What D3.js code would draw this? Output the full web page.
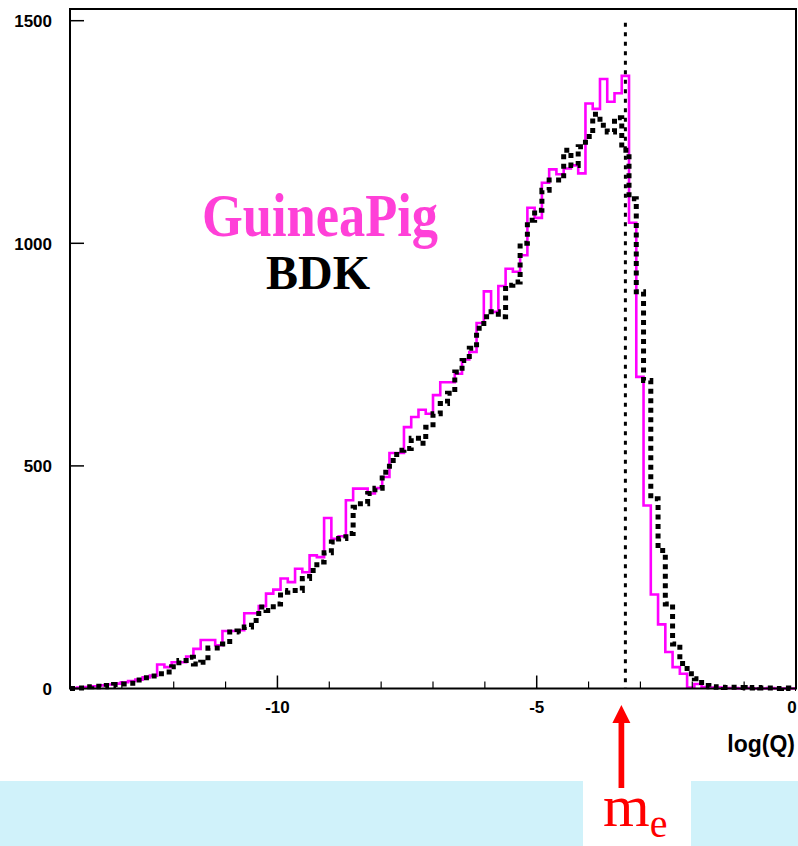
<!DOCTYPE html>
<html><head><meta charset="utf-8">
<script src="https://cdn.jsdelivr.net/npm/d3@7"></script>
<style>html,body{margin:0;padding:0;background:#fff;}svg{display:block;}</style>
</head><body>
<script>
// ---- data ----
const xDomain = [-14, 0];
const nBins = 100;
const binWidth = 0.14;
const binStarts = d3.range(nBins).map(i => xDomain[0] + i * binWidth);
const guineaPig = [
  1, 2, 3, 5, 7, 9, 11, 14, 17, 20,
  25, 29, 54, 48, 59, 59, 72, 89, 109, 109,
  97, 129, 129, 131, 169, 169, 185, 213, 222, 247,
  239, 269, 261, 299, 295, 383, 336, 342, 423, 449,
  449, 438, 450, 475, 529, 529, 587, 610, 626, 617,
  659, 688, 688, 707, 739, 756, 821, 892, 846, 904,
  943, 936, 973, 1080, 1057, 1136, 1166, 1155, 1168, 1175,
  1157, 1314, 1302, 1369, 1318, 1337, 1376, 1046, 700, 411,
  211, 144, 82, 48, 33, 2, 10, 3, 2, 2,
  1, 1, 0, 1, 0, 0, 1, 0, 0, 0
];
const bdk = [
  0, 1, 4, 5, 4, 7, 9, 10, 12, 19,
  24, 28, 33, 37, 49, 63, 70, 55, 59, 91,
  91, 100, 127, 129, 138, 153, 183, 175, 190, 216,
  220, 220, 247, 265, 284, 305, 329, 337, 348, 407,
  415, 438, 450, 486, 512, 535, 539, 562, 551, 587,
  617, 640, 663, 711, 737, 764, 809, 835, 846, 835,
  906, 913, 1000, 1052, 1074, 1119, 1142, 1142, 1209, 1175,
  1217, 1240, 1290, 1265, 1250, 1282, 1209, 1100, 891, 692,
  426, 310, 190, 100, 56, 33, 22, 7, 4, 3,
  2, 3, 2, 1, 2, 1, 1, 0, 1, 0
];
const yTicks = [0, 500, 1000, 1500];
const xMajorTicks = [-10, -5, 0];
const xMinorTicks = [-14, -13, -12, -11, -9, -8, -7, -6, -4, -3, -2, -1];
const meValue = -3.29;

// ---- drawing ----
const W = 798, H = 846;
const svg = d3.select("body").append("svg").attr("width", W).attr("height", H);

const x = d3.scaleLinear().domain(xDomain).range([70, 796]);
const y = d3.scaleLinear().domain([0, 1500]).range([688.5, 20.7]);
const yTopVal = y.invert(9);

// light blue bands at the bottom
svg.append("rect").attr("x", 0).attr("y", 781).attr("width", 583).attr("height", 65).attr("fill", "#d0f2fa");
svg.append("rect").attr("x", 691).attr("y", 781).attr("width", 107).attr("height", 65).attr("fill", "#d0f2fa");

function stepPts(vals) {
  const pts = vals.map((v, i) => [binStarts[i], v]);
  pts.push([binStarts[nBins - 1] + binWidth, vals[nBins - 1]]);
  return pts;
}
const line = d3.line().x(d => x(d[0])).y(d => y(d[1])).curve(d3.curveStepAfter);

// GuineaPig histogram
svg.append("path").attr("d", line(stepPts(guineaPig)))
  .attr("fill", "none").attr("stroke", "#ff00ff").attr("stroke-width", 2.6);

// BDK histogram (dotted)
svg.append("path").attr("d", line(stepPts(bdk)))
  .attr("fill", "none").attr("stroke", "#000").attr("stroke-width", 5)
  .attr("stroke-dasharray", "5,4.5");

// m_e dotted vertical line
svg.append("line").attr("x1", x(meValue)).attr("x2", x(meValue))
  .attr("y1", y(1500) + 2).attr("y2", y(0))
  .attr("stroke", "#000").attr("stroke-width", 3).attr("stroke-dasharray", "4,5.5");

// frame
svg.append("rect").attr("x", x(xDomain[0])).attr("y", y(yTopVal))
  .attr("width", x(xDomain[1]) - x(xDomain[0])).attr("height", y(0) - y(yTopVal))
  .attr("fill", "none").attr("stroke", "#000").attr("stroke-width", 2);

// y ticks
const gy = svg.append("g");
yTicks.forEach(t => {
  gy.append("line").attr("x1", x(xDomain[0])).attr("x2", x(xDomain[0]) + 14)
    .attr("y1", y(t)).attr("y2", y(t)).attr("stroke", "#000").attr("stroke-width", 1.5);
  gy.append("text").attr("x", 52).attr("y", y(t) + 6.5).attr("text-anchor", "end")
    .attr("font-family", "Liberation Sans, Arial, sans-serif").attr("font-weight", "bold")
    .attr("font-size", 17).text(t);
});
// x ticks
const gx = svg.append("g");
xMajorTicks.forEach(t => {
  gx.append("line").attr("x1", x(t)).attr("x2", x(t)).attr("y1", y(0)).attr("y2", y(0) - 13)
    .attr("stroke", "#000").attr("stroke-width", 1.5);
  const lx = Math.min(x(t), 792);
  gx.append("text").attr("x", lx).attr("y", 713).attr("text-anchor", "middle")
    .attr("font-family", "Liberation Sans, Arial, sans-serif").attr("font-weight", "bold")
    .attr("font-size", 17).text(t);
});
xMinorTicks.forEach(t => {
  gx.append("line").attr("x1", x(t)).attr("x2", x(t)).attr("y1", y(0)).attr("y2", y(0) - 7)
    .attr("stroke", "#000").attr("stroke-width", 1.2);
});
svg.append("text").attr("x", 795).attr("y", 752).attr("text-anchor", "end")
  .attr("font-family", "Liberation Sans, Arial, sans-serif").attr("font-weight", "bold")
  .attr("font-size", 23).text("log(Q)");

// legend texts
svg.append("text").attr("x", 202).attr("y", 236)
  .attr("font-family", "Liberation Serif, Times New Roman, serif").attr("font-weight", "bold")
  .attr("font-size", 62).attr("fill", "#ff40d8")
  .attr("textLength", 236).attr("lengthAdjust", "spacingAndGlyphs").text("GuineaPig");
svg.append("text").attr("x", 318).attr("y", 289).attr("text-anchor", "middle")
  .attr("font-family", "Liberation Serif, Times New Roman, serif").attr("font-weight", "bold")
  .attr("font-size", 48).attr("fill", "#000").text("BDK");

// red arrow and m_e label
const ax = x(meValue) - 4;
svg.append("line").attr("x1", ax).attr("x2", ax).attr("y1", 720).attr("y2", 788)
  .attr("stroke", "#ff0000").attr("stroke-width", 5.7);
svg.append("path").attr("d", `M${ax},705 L${ax - 9},723 L${ax + 9},723 Z`).attr("fill", "#ff0000");
const me = svg.append("text").attr("x", 603).attr("y", 826)
  .attr("font-family", "Liberation Serif, Times New Roman, serif")
  .attr("font-size", 60).attr("fill", "#ff0000");
me.append("tspan").text("m");
me.append("tspan").attr("dy", 11).attr("font-size", 40).text("e");
</script>
</body></html>
